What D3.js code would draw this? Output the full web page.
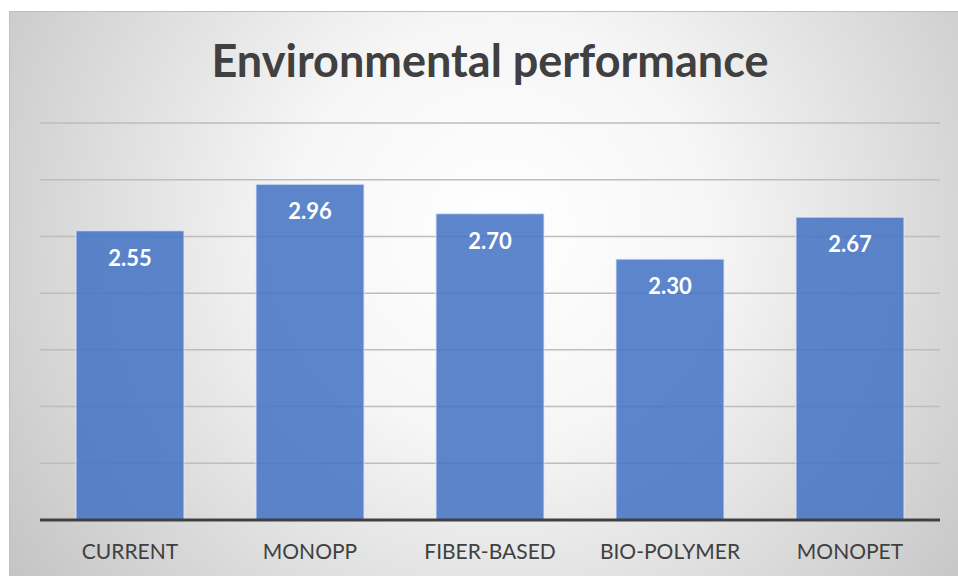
<!DOCTYPE html>
<html>
<head>
<meta charset="utf-8">
<script src="https://cdn.jsdelivr.net/npm/d3@7"></script>
<style>
  html, body { margin: 0; padding: 0; background: #fff; }
  svg { display: block; }
</style>
</head>
<body>
<svg id="chart" width="958" height="576"></svg>
<script>
// Chart data
const categories = ["CURRENT", "MONOPP", "FIBER-BASED", "BIO-POLYMER", "MONOPET"];
const values = [2.55, 2.96, 2.70, 2.30, 2.67];
const gridTicks = [0.5, 1.0, 1.5, 2.0, 2.5, 3.0, 3.5];
const titleText = "Environmental performance";

const W = 958, H = 576;
const svg = d3.select("#chart");
const defs = svg.append("defs");

// Soft radial background, bright in the middle and grey toward the corners
const grad = defs.append("radialGradient")
  .attr("id", "bg")
  .attr("gradientUnits", "userSpaceOnUse")
  .attr("cx", 500).attr("cy", 230).attr("r", 600);
grad.append("stop").attr("offset", "0%").attr("stop-color", "#ffffff");
grad.append("stop").attr("offset", "35%").attr("stop-color", "#f6f6f6");
grad.append("stop").attr("offset", "100%").attr("stop-color", "#c4c4c4");

svg.append("rect")
  .attr("x", 9.5).attr("y", 11.5)
  .attr("width", W).attr("height", H)
  .attr("fill", "url(#bg)")
  .attr("stroke", "#c0c0c0")
  .attr("stroke-width", 1);

const plot = { left: 40, right: 940, top: 123, bottom: 520 };

const x = d3.scaleBand()
  .domain(categories)
  .range([plot.left, plot.right])
  .paddingInner(0.4)
  .paddingOuter(0.2);

const y = d3.scaleLinear()
  .domain([0, 3.5])
  .range([plot.bottom, plot.top]);

// Horizontal gridlines
svg.append("g")
  .selectAll("line")
  .data(gridTicks)
  .join("line")
  .attr("x1", plot.left).attr("x2", plot.right)
  .attr("y1", d => y(d)).attr("y2", d => y(d))
  .attr("stroke", "#bdbdbd")
  .attr("stroke-width", 1.5);

// Bars
svg.append("g")
  .selectAll("rect")
  .data(values)
  .join("rect")
  .attr("x", (d, i) => x(categories[i]))
  .attr("y", d => y(d))
  .attr("width", x.bandwidth())
  .attr("height", d => y(0) - y(d))
  .attr("fill", "rgba(68,114,196,0.86)")
  .attr("stroke", "rgba(220,230,250,0.9)")
  .attr("stroke-width", 1);

// Value labels inside the bar tops
svg.append("g")
  .selectAll("text")
  .data(values)
  .join("text")
  .attr("x", (d, i) => x(categories[i]) + x.bandwidth() / 2)
  .attr("y", d => y(d) + 35)
  .attr("text-anchor", "middle")
  .attr("font-family", "Lato, 'Open Sans', sans-serif")
  .attr("font-weight", "bold")
  .attr("font-size", 22)
  .attr("fill", "#ffffff")
  .text(d => d.toFixed(2));

// Category axis
const xAxis = svg.append("g")
  .attr("transform", `translate(0,${plot.bottom})`)
  .call(d3.axisBottom(x).tickSize(0).tickPadding(39));
xAxis.select(".domain").remove();
svg.append("line")
  .attr("x1", plot.left).attr("x2", plot.right)
  .attr("y1", plot.bottom).attr("y2", plot.bottom)
  .attr("stroke", "#404040")
  .attr("stroke-width", 3);
xAxis.selectAll("text")
  .attr("font-family", "Lato, 'Open Sans', sans-serif")
  .attr("font-size", 21)
  .attr("fill", "#404040")
  .attr("dy", 0);

// Title
svg.append("text")
  .attr("x", 490)
  .attr("y", 77)
  .attr("text-anchor", "middle")
  .attr("font-family", "Lato, 'Open Sans', sans-serif")
  .attr("font-weight", "bold")
  .attr("font-size", 45)
  .attr("fill", "#404040")
  .text(titleText);
</script>
</body>
</html>
